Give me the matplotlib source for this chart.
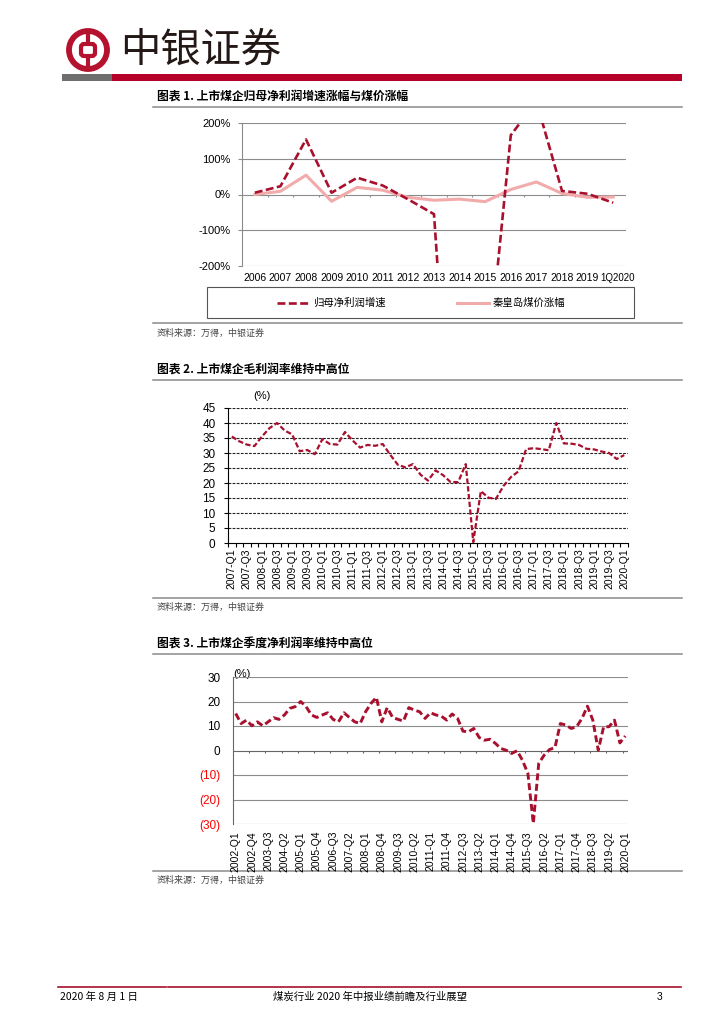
import numpy as np
import matplotlib.pyplot as plt
from matplotlib.patches import Circle, Rectangle, FancyBboxPatch

plt.rcParams['font.family'] = ['Liberation Sans', 'Noto Sans CJK SC', 'DejaVu Sans']
plt.rcParams['axes.unicode_minus'] = False

W, H = 724, 1024
RED = '#A8102E'
PINK = '#F2ABAB'
CJK = ['Noto Sans CJK SC', 'DejaVu Sans']

# chart 1: yearly growth (%)
years1 = ['2006', '2007', '2008', '2009', '2010', '2011', '2012', '2013',
          '2014', '2015', '2016', '2017', '2018', '2019', '1Q2020']
profit_growth = [5, 23, 154, 5, 47, 25, -14, -55, -1100, -550, 166, 260, 10, 2, -23]
coal_price_chg = [0, 9, 54, -19, 20, 12, -8, -16, -13, -20, 14, 35, 3, -8, -7]

# chart 2: gross margin by quarter, 2007-Q1 .. 2020-Q1
quarters2 = [f'{y}-Q{q}' for y in range(2007, 2021) for q in range(1, 5)][:53]
gross_margin = [35.5, 33.9, 32.8, 32.3, 35.5, 38.3, 40.0, 37.5, 36.2, 30.6,
                31.0, 29.6, 34.6, 33.0, 32.8, 37.0, 34.2, 31.8, 32.7, 32.4,
                33.0, 29.4, 26.1, 25.2, 26.3, 22.8, 20.8, 24.2, 22.6, 20.3,
                20.3, 26.3, 0.3, 17.3, 15.1, 14.7, 19.0, 22.0, 23.9, 31.3,
                31.6, 31.3, 30.9, 40.0, 33.2, 33.1, 32.7, 31.4, 31.2, 30.5,
                30.0, 28.0, 29.3]

# chart 3: quarterly net margin, 2002-Q1 .. 2020-Q1
quarters3 = [f'{y}-Q{q}' for y in range(2002, 2021) for q in range(1, 5)][:73]
net_margin = [15.1, 11.0, 12.4, 10.1, 11.7, 10.1, 11.7, 13.4, 12.7, 14.5,
              17.2, 17.9, 20.0, 17.9, 14.5, 13.5, 14.5, 15.4, 12.7, 11.7,
              15.4, 13.5, 11.7, 11.0, 15.8, 19.2, 21.7, 11.7, 17.5, 13.5,
              12.7, 12.0, 17.5, 16.5, 15.8, 13.1, 15.4, 14.5, 14.0, 12.4,
              14.9, 13.1, 7.9, 7.6, 9.0, 5.3, 4.2, 4.6, 2.9, 0.8,
              0.1, -1.2, -0.1, -4.0, -9.4, -29.8, -5.3, -1.9, 0.4, 1.2,
              11.0, 10.4, 9.0, 9.7, 13.1, 18.1, 12.4, 0.1, 9.7, 9.7,
              12.4, 3.1, 5.9]


def px_axes(fig, left, top, right, bottom):
    ax = fig.add_axes([left / W, 1 - bottom / H, (right - left) / W, (bottom - top) / H])
    ax.patch.set_alpha(0)
    return ax


fig = plt.figure(figsize=(W / 100, H / 100), dpi=100)
bg = fig.add_axes([0, 0, 1, 1])
bg.set_xlim(0, W)
bg.set_ylim(H, 0)
bg.axis('off')

# header
bg.add_patch(Circle((88, 50), 19, fill=False, edgecolor='#B5122F', lw=4.2))
bg.add_patch(FancyBboxPatch((81, 44), 14, 12, boxstyle='round,pad=0,rounding_size=3',
                            fill=False, edgecolor='#B5122F', lw=3))
bg.plot([88, 88], [31, 44], color='#B5122F', lw=3, solid_capstyle='butt')
bg.plot([88, 88], [56, 69], color='#B5122F', lw=3, solid_capstyle='butt')
bg.text(120, 50, '中银证券', fontsize=29, va='center', ha='left', family=CJK, color='#231815')
bg.add_patch(Rectangle((62, 74), 50, 7, color='#6E6E6E', lw=0))
bg.add_patch(Rectangle((112, 74), 570, 7, color='#B5002A', lw=0))


def section(title, ty, line_y, src_y):
    bg.text(157, ty, title, fontsize=8.5, fontweight='bold', va='center', family=CJK)
    bg.plot([153, 682], [ty + 10, ty + 10], color='#8A8A8A', lw=1.1)
    bg.plot([153, 682], [line_y, line_y], color='#8A8A8A', lw=1.1)
    bg.text(157, src_y, '资料来源：万得，中银证券', fontsize=6.5, va='center', family=CJK,
            color='#444444')


section('图表 1. 上市煤企归母净利润增速涨幅与煤价涨幅', 97, 323, 333)
section('图表 2. 上市煤企毛利润率维持中高位', 370, 598, 607)
section('图表 3. 上市煤企季度净利润率维持中高位', 644, 871, 880)

# ---- chart 1
ax1 = px_axes(fig, 242, 123, 626, 266)
x1 = np.arange(len(years1))
ax1.plot(x1, coal_price_chg, color=PINK, lw=2.2, solid_joinstyle='round', zorder=3)
ax1.plot(x1, profit_growth, color=RED, lw=1.9, ls=(0, (3, 1.3)), zorder=4)
ax1.set_xlim(-0.5, len(years1) - 0.5)
ax1.set_ylim(-200, 200)
yt1 = np.arange(-200, 201, 100)
ax1.set_yticks(yt1)
ax1.set_yticklabels([f'{v}%' for v in yt1], fontsize=8)
for v in yt1:
    ax1.axhline(v, color='#8C8C8C', lw=0.8, zorder=1)
ax1.vlines(np.arange(0.5, len(years1) - 1, 1), -8, 0, color='#8C8C8C', lw=0.8)
ax1.set_xticks(x1[:-1])
ax1.set_xticklabels(years1[:-1], fontsize=7.5)
# last category label sits a little to the right, as in the source
ax1.annotate(years1[-1], xy=(x1[-1], 0), xycoords=ax1.get_xaxis_transform(),
             xytext=(3.5, -5), textcoords='offset points', ha='center', va='top',
             fontsize=7)
ax1.tick_params(axis='x', length=0, pad=5)
ax1.tick_params(axis='y', length=3, color='#8C8C8C', pad=5)
for s in ['top', 'right', 'bottom']:
    ax1.spines[s].set_visible(False)
ax1.spines['left'].set_color('#8C8C8C')
ax1.spines['left'].set_linewidth(0.8)

# legend box
bg.add_patch(Rectangle((207, 287), 427, 31, fill=False, edgecolor='#555555', lw=0.8))
bg.plot([277, 308], [303, 303], color=RED, lw=1.9, ls=(0, (3, 1.3)))
bg.text(313, 303, '归母净利润增速', fontsize=7.5, va='center', family=CJK)
bg.plot([457, 489], [303, 303], color=PINK, lw=2.2)
bg.text(493, 303, '秦皇岛煤价涨幅', fontsize=7.5, va='center', family=CJK)

# ---- chart 2
ax2 = px_axes(fig, 228, 408, 628, 543)
x2 = np.arange(len(quarters2))
ax2.plot(x2, gross_margin, color=RED, lw=1.6, ls=(0, (2.4, 1.1)), zorder=4)
ax2.set_xlim(-0.5, len(quarters2) - 0.5)
ax2.set_ylim(0, 45)
ax2.set_yticks(np.arange(0, 46, 5))
ax2.tick_params(axis='y', labelsize=8.5, length=3, pad=6)
for v in range(5, 46, 5):
    ax2.axhline(v, color='#222222', lw=0.8, ls=(0, (2.5, 1.2)), zorder=1)
ax2.set_xticks(np.arange(-0.5, len(quarters2), 1))
ax2.set_xticklabels([])
ax2.set_xticks(x2[::2], minor=True)
ax2.set_xticklabels(quarters2[::2], minor=True, rotation=90, fontsize=7.5)
ax2.tick_params(axis='x', which='major', length=3)
ax2.tick_params(axis='x', which='minor', length=0, pad=4)
for s in ['top', 'right']:
    ax2.spines[s].set_visible(False)
for s in ['left', 'bottom']:
    ax2.spines[s].set_linewidth(0.8)
bg.text(262, 396, '(%)', fontsize=8, ha='center', va='center')

# ---- chart 3
ax3 = px_axes(fig, 233, 677, 628, 824)
x3 = np.arange(len(quarters3))
ax3.plot(x3, net_margin, color=RED, lw=2.1, ls=(0, (2.4, 1.2)), zorder=4)
ax3.set_xlim(-0.5, len(quarters3) - 0.5)
ax3.set_ylim(-30, 30)
yt3 = np.arange(-30, 31, 10)
ax3.set_yticks(yt3)
ax3.set_yticklabels([f'({-v})' if v < 0 else str(v) for v in yt3], fontsize=8.5)
for lab, v in zip(ax3.get_yticklabels(), yt3):
    if v < 0:
        lab.set_color('#FF0000')
for v in yt3:
    if v != 0:
        ax3.axhline(v, color='#8C8C8C', lw=0.8, zorder=1)
ax3.axhline(0, color='#666666', lw=0.8, zorder=2)
ax3.vlines(np.arange(2.5, len(quarters3), 3), -1.2, 0, color='#666666', lw=0.8)
ax3.set_xticks(x3[::3])
ax3.set_xticklabels(quarters3[::3], rotation=90, fontsize=7.5)
ax3.tick_params(axis='x', length=0, pad=5)
ax3.tick_params(axis='y', length=0, pad=9)
for s in ['top', 'right', 'bottom']:
    ax3.spines[s].set_visible(False)
ax3.spines['left'].set_color('#666666')
ax3.spines['left'].set_linewidth(0.8)
bg.text(242, 674, '(%)', fontsize=8, ha='center', va='center')

# footer
bg.plot([58, 166], [987, 987], color=RED, lw=1.2)
bg.plot([168, 681], [987, 987], color=RED, lw=1.2)
bg.text(60, 997, '2020 年 8 月 1 日', fontsize=7.5, va='center', family=CJK)
bg.text(370, 997, '煤炭行业 2020 年中报业绩前瞻及行业展望', fontsize=7.5, va='center',
        ha='center', family=CJK)
bg.text(657, 997, '3', fontsize=7.5, va='center')

fig.savefig('out.png', dpi=100)
